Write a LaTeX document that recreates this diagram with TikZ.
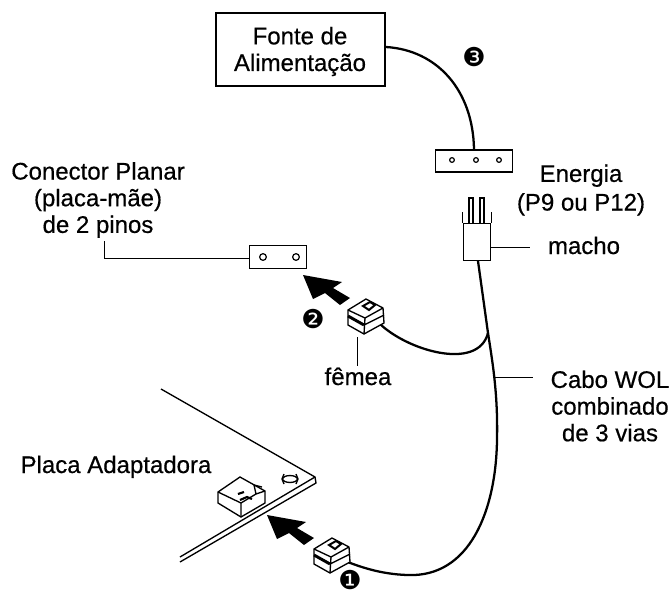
\documentclass[tikz,border=0pt]{standalone}
\usepackage{fontspec}
\setmainfont{Liberation Sans}[FakeBold=0.5]
\newfontfamily\dingfont{DejaVu Sans}
\usetikzlibrary{positioning}
\tikzset{
  lbl/.style={align=center,font=\fontsize{18}{20}\selectfont,inner sep=0pt},
  mark num/.style={font=\dingfont\fontsize{19.5}{20}\selectfont,inner sep=0pt},
  cable/.style={line width=1.7pt},
  leader/.style={line width=0.7pt},
  housing/.style={draw,line width=1.1pt,fill=white,inner sep=0pt},
  plug/.pic={
    \draw[line width=1pt,fill=white] (0,0)--(17,9)--(18,24)--(-2,35)--(-18,26)--(-18,11)--cycle;
    \draw[line width=1pt] (-18,11)--(-1,19)--(17,9);
    \draw[line width=2.2pt] (-18,17)--(-2,26);
    \draw[line width=1pt] (-2,26)--(18,16) (-1,19)--(-2,35);
    \draw[line width=1.5pt] (-3,7)--(4,3)--(9,6)--(3,11)--cycle;
  },
  push/.pic={
    \fill (0,0)--(39,7)--(30,13)--(47,23)--(37,30)--(22,18)--(10,24)--cycle;
  },
  pinhole/.style={circle,draw,line width=0.9pt,minimum size=5pt,inner sep=0pt}
}
\begin{document}
\begin{tikzpicture}[x=0.75pt,y=-0.75pt]
\useasboundingbox (0,0) rectangle (672,594);
% housings
\node[housing,minimum width=127pt,minimum height=55pt] (fonte) at (300.5,49.5) {};
\node[lbl] (fontelbl) at (300,51.5) {Fonte de\\Alimentação};
\node[housing,minimum width=58pt,minimum height=16.5pt] (socket) at (474,161) {};
\node[housing,minimum width=43pt,minimum height=17pt] (planar) at (278,257) {};
\node[housing,minimum width=20pt,minimum height=28pt] (male) at (477,242) {};
\node[pinhole,minimum size=3.5pt] at (452,160) {};
\node[pinhole,minimum size=3.5pt] at (476,160) {};
\node[pinhole,minimum size=3.5pt] at (499,160) {};
\node[pinhole] at (263,257) {};
\node[pinhole] at (296,257) {};
% male pins
\draw[line width=0.8pt] (469,223)--(469,198)--(473,198)--(473,223);
\draw[line width=0.8pt] (480,223)--(480,198)--(484,198)--(484,223);
\draw[line width=0.8pt] (male.north west)--++(0,-11);
\draw[line width=0.8pt] (male.north east)--++(0,-11);
% cables
\coordinate (split) at (488,333);
\coordinate (plugend) at (340,559);
\coordinate (femaleend) at (378,322);
\draw[cable] (fonte.east|-0,47) .. controls (437,50) and (473,90) .. (socket.north);
\draw[cable] (478,261) -- (split) .. controls (493,365) and (498,395) .. (497,440) .. controls (496,510) and (470,578) .. (407,575) .. controls (380,574) and (360,567) .. (plugend);
\draw[cable] (femaleend) .. controls (405,350) and (478,372) .. (split);
% plugs and arrows
\pic at (366,299) {plug};
\pic at (332,538) {plug};
\pic at (303,275) {push};
\pic at (267,515) {push};
% board
\draw[line width=1pt] (161,389)--(315,477)--(316,483)--(180,562);
\draw[line width=1pt] (315,477)--(180,557);
\draw[line width=1pt] (290,479) ellipse (5.5pt and 2.6pt);
\draw[line width=1pt] (284,474)--(282,479)--(284,484) (296,474)--(298,479)--(296,484);
% board connector
\draw[line width=1pt,fill=white] (218,492)--(240,477)--(265,491)--(265,503)--(241,517)--(218,503)--cycle;
\draw[line width=1pt] (218,492)--(241,503)--(241,517);
\draw[line width=1pt] (241,503)--(256,494) (254,485)--(256,494)--(265,491) (254,485)--(262,487);
\draw[line width=1.6pt] (238,494)--(244,492) (240,500)--(247,497)--(252,499);
% leaders
\coordinate (planarleft) at (104,241);
\draw[leader] (planarleft)--(104,258)--(planar.west|-0,258);
\draw[leader] (male.east|-0,247)--(530,247);
\draw[leader] (357,337)--(357,366);
\draw[leader] (495,377)--(533,377);
% labels
\node[lbl] at (98,200) {Conector Planar\\(placa-mãe)\\de 2 pinos};
\node[lbl] at (581,190) {Energia\\[1.5pt](P9 ou P12)};
\node[lbl,anchor=base] at (584,254) {macho};
\node[lbl,anchor=base] at (358,385) {fêmea};
\node[lbl] at (610,406) {Cabo WOL\\combinado\\de 3 vias};
\node[lbl,anchor=base] at (116,473) {Placa Adaptadora};
\node[mark num] at (474,57) {❸};
\node[mark num] at (313,319) {❷};
\node[mark num] at (350,580) {❶};
\end{tikzpicture}
\end{document}
